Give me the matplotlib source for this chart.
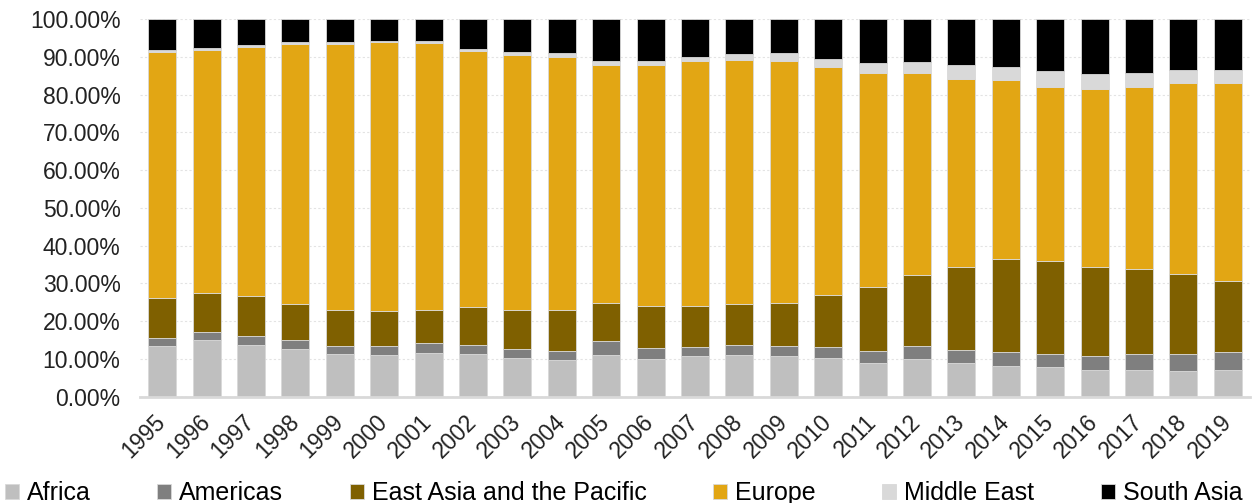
import matplotlib.pyplot as plt
import numpy as np
from matplotlib.ticker import FuncFormatter

plt.rcParams['font.family'] = ['Liberation Sans', 'DejaVu Sans']

years = [str(y) for y in range(1995, 2020)]

# regional shares, percent of total
africa = [13.4, 14.9, 13.6, 12.6, 11.2, 11.0, 11.6, 11.3, 10.2, 9.7, 10.9, 9.9, 10.6,
          11.0, 10.7, 10.1, 9.0, 9.9, 9.0, 8.1, 7.7, 7.1, 7.1, 6.8, 7.1]
americas = [2.1, 2.1, 2.4, 2.4, 2.1, 2.3, 2.5, 2.3, 2.4, 2.4, 3.7, 2.9, 2.5,
            2.6, 2.8, 3.0, 3.1, 3.4, 3.3, 3.7, 3.6, 3.6, 4.2, 4.4, 4.7]
east_asia = [10.5, 10.4, 10.5, 9.5, 9.6, 9.4, 8.9, 10.0, 10.2, 10.9, 10.3, 11.3, 11.0,
             10.8, 11.4, 13.9, 17.0, 19.0, 22.1, 24.5, 24.7, 23.5, 22.5, 21.3, 18.7]
europe = [65.3, 64.5, 66.1, 68.9, 70.5, 71.1, 70.6, 67.9, 67.6, 67.0, 62.8, 63.6, 64.7,
          64.8, 63.9, 60.2, 56.5, 53.3, 49.6, 47.5, 46.1, 47.3, 48.3, 50.5, 52.5]
middle_east = [0.4, 0.4, 0.4, 0.4, 0.4, 0.5, 0.5, 0.5, 0.9, 0.9, 1.3, 1.3, 1.2,
               1.5, 2.1, 2.3, 2.8, 3.1, 3.7, 3.5, 4.1, 4.0, 3.7, 3.5, 3.5]
south_asia = [8.3, 7.7, 7.0, 6.2, 6.2, 5.7, 5.9, 8.0, 8.7, 9.1, 11.0, 11.0, 10.0,
              9.3, 9.1, 10.5, 11.6, 11.3, 12.3, 12.7, 13.8, 14.5, 14.2, 13.5, 13.5]

series = [
    ('Africa', africa, '#bfbfbf'),
    ('Americas', americas, '#7f7f7f'),
    ('East Asia and the Pacific', east_asia, '#7f6000'),
    ('Europe', europe, '#e2a614'),
    ('Middle East', middle_east, '#d9d9d9'),
    ('South Asia', south_asia, '#000000'),
]

fig = plt.figure(figsize=(12.54, 5.03), dpi=100)
ax = fig.add_axes([0.1116, 0.2117, 0.8852, 0.7505])

x = np.arange(len(years))
bottom = np.zeros(len(years))
for name, vals, col in series:
    vals = np.array(vals)
    ax.bar(x, vals, 0.63, bottom=bottom, color=col, label=name,
           edgecolor='#d9d9d9', linewidth=0.6, zorder=2)
    bottom += vals

ax.set_xlim(-0.5, len(years) - 0.5)
ax.set_ylim(0, 100)
ax.set_yticks(np.arange(0, 101, 10))
ax.yaxis.set_major_formatter(FuncFormatter(lambda v, p: '%.2f%%' % v))
ax.grid(axis='y', color='#e3e3e3', linestyle=(0, (2, 2)), linewidth=0.8, zorder=0)

for s in ['top', 'right', 'left']:
    ax.spines[s].set_visible(False)
ax.spines['bottom'].set_color('#d9d9d9')
ax.spines['bottom'].set_linewidth(2)

ax.tick_params(axis='y', length=0, pad=14, labelsize=16.5, labelcolor='#222222')
ax.tick_params(axis='x', length=0, pad=16, labelsize=16.5, labelcolor='#222222')
ax.set_xticks(x)
ax.set_xticklabels(years, rotation=45, ha='right', va='center', rotation_mode='anchor')

fig.legend(loc='center left', bbox_to_anchor=(0.004, 0.02), ncol=6, frameon=False,
           fontsize=18, handlelength=0.55, handleheight=0.55, handletextpad=0.33,
           columnspacing=2.66, borderpad=0, borderaxespad=0)

fig.savefig('out.png', dpi=100)
